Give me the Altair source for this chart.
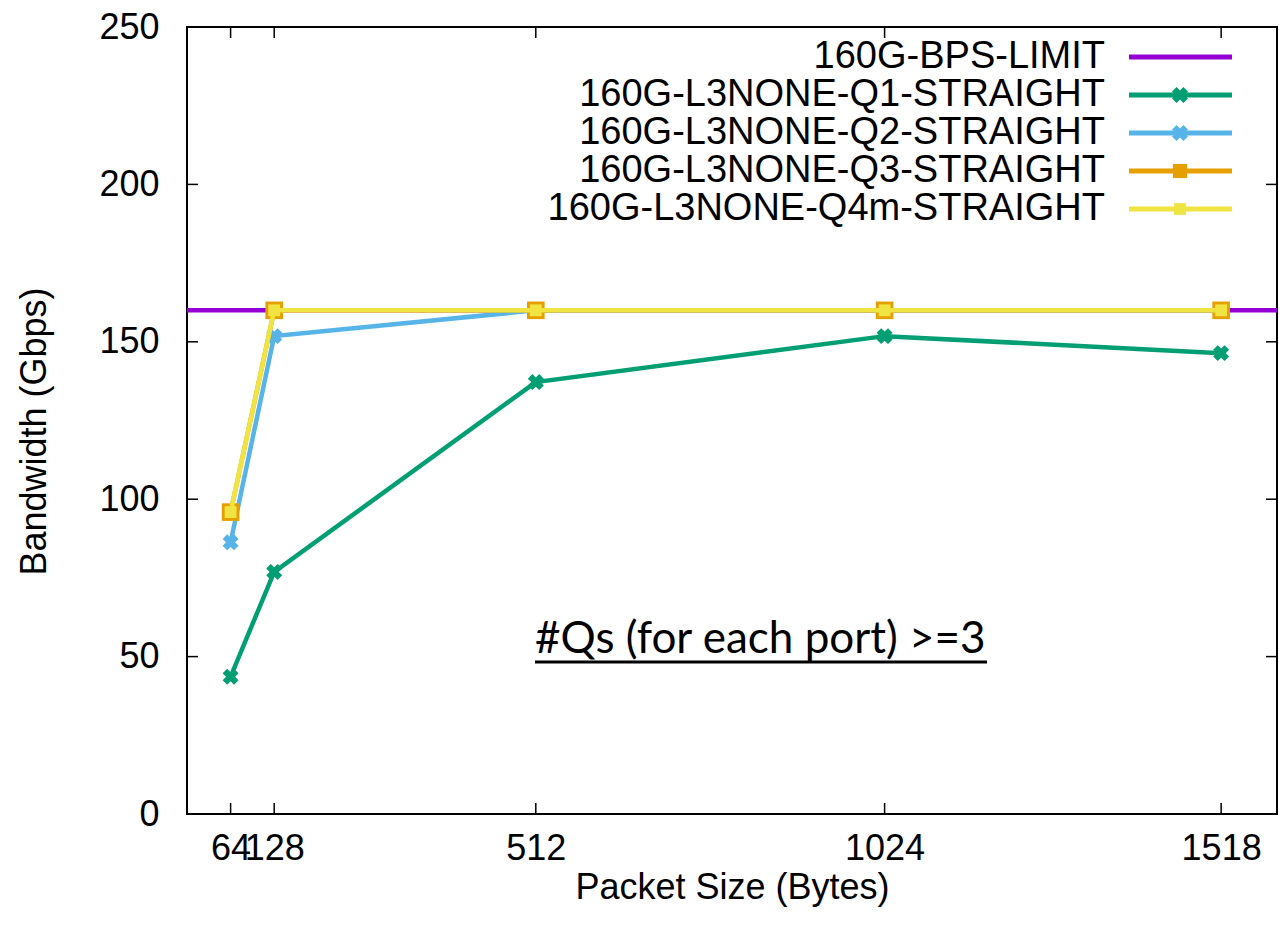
import altair as alt
import pandas as pd

# ---- data ----
packet_sizes = [64, 128, 512, 1024, 1518]
limit_x = [0, 1600]
limit_y = [160, 160]
q1 = [43.6, 76.9, 137.2, 151.8, 146.4]
q2 = [86.3, 151.8, 160, 160, 160]
q3 = [95.9, 160, 160, 160, 160]
q4m = [95.9, 160, 160, 160, 160]

series_names = [
    "160G-BPS-LIMIT",
    "160G-L3NONE-Q1-STRAIGHT",
    "160G-L3NONE-Q2-STRAIGHT",
    "160G-L3NONE-Q3-STRAIGHT",
    "160G-L3NONE-Q4m-STRAIGHT",
]
colors = ["#9400d3", "#009e73", "#56b4e9", "#e69f00", "#f0e442"]
x_ticks = [64, 128, 512, 1024, 1518]
y_ticks = [0, 50, 100, 150, 200, 250]
annotation = "#Qs (for each port) >=3"

W, H = 1090, 787
FONT = "Liberation Sans"
FS = 36

X = alt.X(
    "x:Q",
    scale=alt.Scale(domain=[0, 1600], nice=False, zero=False),
    axis=alt.Axis(
        values=x_ticks, format="d", ticks=False, domain=False, grid=False,
        labelFont=FONT, labelFontSize=FS, labelColor="black", labelPadding=17,
        labelOverlap=False, labelFlush=False,
        title="Packet Size (Bytes)", titleFont=FONT, titleFontSize=FS,
        titleFontWeight="normal", titleColor="black",
        titleBaseline="alphabetic", titleY=84,
    ),
)
Y = alt.Y(
    "y:Q",
    scale=alt.Scale(domain=[0, 250], nice=False, zero=False),
    axis=alt.Axis(
        values=y_ticks, format="d", ticks=False, domain=False, grid=False,
        labelFont=FONT, labelFontSize=FS, labelColor="black", labelPadding=28,
        title="Bandwidth (Gbps)", titleFont=FONT, titleFontSize=FS,
        titleFontWeight="normal", titleColor="black",
        titleBaseline="alphabetic", titleAngle=270, titleX=-142, titleY=404,
    ),
)

layers = []

# inward ticks (gnuplot style) on all four sides
xt = pd.DataFrame({"x": x_ticks})
yt = pd.DataFrame({"y": y_ticks})
tick_style = dict(color="black", strokeWidth=1.5)
layers.append(alt.Chart(xt).mark_rule(**tick_style).encode(x=X, y=alt.value(H), y2=alt.value(H - 11)))
layers.append(alt.Chart(xt).mark_rule(**tick_style).encode(x=X, y=alt.value(0), y2=alt.value(11)))
layers.append(alt.Chart(yt).mark_rule(**tick_style).encode(y=Y, x=alt.value(0), x2=alt.value(11)))
layers.append(alt.Chart(yt).mark_rule(**tick_style).encode(y=Y, x=alt.value(W - 11), x2=alt.value(W)))

# limit line
lim = pd.DataFrame({"x": limit_x, "y": limit_y})
layers.append(alt.Chart(lim).mark_line(color=colors[0], strokeWidth=4.5).encode(x=X, y=Y))

series_vals = [q1, q2, q3, q4m]
marker = [
    dict(shape="cross", angle=45, size=260),
    dict(shape="cross", angle=45, size=260),
    dict(shape="square", size=310),
    dict(shape="square", size=140),
]
for i, vals in enumerate(series_vals):
    df = pd.DataFrame({"x": packet_sizes, "y": vals})
    c = colors[i + 1]
    layers.append(alt.Chart(df).mark_line(color=c, strokeWidth=4.5).encode(x=X, y=Y))
    layers.append(
        alt.Chart(df).mark_point(filled=True, color=c, opacity=1, **marker[i]).encode(x=X, y=Y)
    )

# manual legend (gnuplot style: label on the left, sample on the right)
one = pd.DataFrame({"k": [0]})
for i, name in enumerate(series_names):
    yy = 30 + 38 * i
    layers.append(
        alt.Chart(one).mark_text(align="right", baseline="middle", font=FONT, fontSize=38, color="black")
        .encode(x=alt.value(918), y=alt.value(yy), text=alt.value(name))
    )
    layers.append(
        alt.Chart(one).mark_rule(color=colors[i], strokeWidth=5)
        .encode(x=alt.value(942), x2=alt.value(1045), y=alt.value(yy))
    )
    if i > 0:
        m = dict(marker[i - 1])
        if i == 3:
            m["size"] = 200
        layers.append(
            alt.Chart(one).mark_point(filled=True, color=colors[i], opacity=1, **m)
            .encode(x=alt.value(993), y=alt.value(yy))
        )

# annotation with underline
layers.append(
    alt.Chart(one).mark_text(align="left", baseline="alphabetic", font="Lato", fontSize=44, color="black")
    .encode(x=alt.value(348), y=alt.value(626), text=alt.value(annotation))
)
layers.append(
    alt.Chart(one).mark_rule(color="black", strokeWidth=3)
    .encode(x=alt.value(348), x2=alt.value(800), y=alt.value(635))
)

chart = (
    alt.layer(*layers)
    .properties(
        width=W, height=H,
        autosize=alt.AutoSizeParams(type="none"),
        padding={"left": 187, "top": 27, "right": 2, "bottom": 116},
        background="white",
    )
    .configure_view(stroke="black", strokeWidth=2)
)

chart.save("out.html", embed_options={"renderer": "svg", "actions": False})
